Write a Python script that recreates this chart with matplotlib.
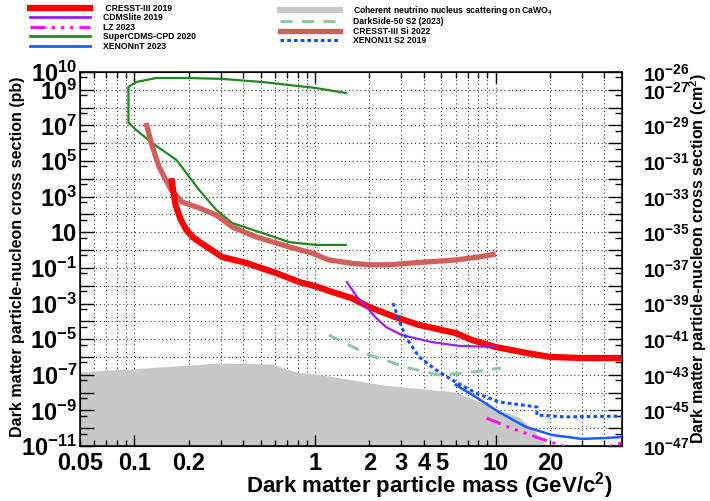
import matplotlib

matplotlib.use("Agg")

import matplotlib.pyplot as plt
import numpy as np
from matplotlib.lines import Line2D
from matplotlib.ticker import FixedLocator, FuncFormatter, NullLocator

plt.rcParams["font.family"] = ["Liberation Sans", "DejaVu Sans"]
plt.rcParams["font.weight"] = "bold"
plt.rcParams["mathtext.fontset"] = "custom"
plt.rcParams["mathtext.rm"] = "Liberation Sans:bold"
plt.rcParams["mathtext.it"] = "Liberation Sans:bold"
plt.rcParams["mathtext.bf"] = "Liberation Sans:bold"

# ---------- data: mass in GeV/c^2, cross section in pb ----------
cresst3_m = [0.16, 0.169, 0.18, 0.194, 0.21, 0.229, 0.306, 0.416, 0.61, 0.82, 1.0, 1.24, 1.6, 2.0,
             2.8, 3.76, 6.0, 7.4, 10, 14.7, 20, 30, 50]
cresst3_s = [1.1e4, 3.4e2, 55, 13.5, 5.5, 2.9, 0.41, 0.19, 0.051, 0.016, 9.5e-3, 4.5e-3, 2.0e-3, 6.3e-4,
             1.7e-4, 6.3e-5, 2.2e-5, 8.9e-6, 3.6e-6, 1.7e-6, 1.0e-6, 8.7e-7, 8.7e-7]

cresst_si_m = [0.116, 0.124, 0.137, 0.16, 0.184, 0.229, 0.284, 0.348, 0.472, 0.72, 0.96, 1.19,
               1.6, 2.0, 2.56, 4.0, 6.0, 8.0, 10.0]
cresst_si_s = [1.4e7, 1.0e6, 4.7e4, 2.3e3, 5.0e2, 2.3e2, 93, 20, 5.5, 1.5, 0.69, 0.28,
               0.18, 0.15, 0.15, 0.21, 0.28, 0.41, 0.60]

cpd_m = [1.48, 1.01, 0.51, 0.306, 0.201, 0.132, 0.1025, 0.0927, 0.0927, 0.1025, 0.126, 0.171,
         0.194, 0.229, 0.284, 0.348, 0.51, 0.72, 1.01, 1.48]
cpd_s = [6.6e8, 1.26e9, 2.75e9, 4.1e9, 4.6e9, 4.6e9, 2.75e9, 1.45e9, 1.4e7, 5.5e6, 1.0e6, 1.15e5,
         2.1e4, 2.3e3, 1.8e2, 33, 9.1, 2.8, 1.95, 1.95]

cdmslite_m = [1.5, 1.71, 1.99, 2.2, 2.47, 3.02, 4.4, 6.25, 10]
cdmslite_s = [1.6e-2, 2.3e-3, 4.4e-4, 1.4e-4, 4.8e-5, 1.7e-5, 6.9e-6, 4.2e-6, 3.6e-6]

darkside_m = [1.19, 1.99, 3.3, 4.84, 6.8, 10.7]
darkside_s = [1.7e-5, 1.3e-6, 2.4e-7, 9.8e-8, 1.26e-7, 2.4e-7]

xe1t_m = [2.7, 2.91, 3.18, 3.76, 4.66, 6.0, 7.76, 10.4, 16.9, 16.9, 24.4, 50]
xe1t_s = [1.07e-3, 1.2e-4, 1.3e-5, 1.0e-6, 1.9e-7, 3.9e-8, 9.5e-9, 3.0e-9, 1.55e-9, 5.5e-10,
          4.3e-10, 4.8e-10]

xennt_m = [6.0, 7.76, 10.4, 14.7, 20.4, 29.9, 40.5, 50]
xennt_s = [2.7e-8, 5.6e-9, 8.1e-10, 1.17e-10, 4.2e-11, 2.5e-11, 2.8e-11, 3.2e-11]

lz_m = [8.9, 12.2, 17.3, 24.4, 32, 40, 50]
lz_s = [3.7e-10, 1.0e-10, 2.8e-11, 8.9e-12, 6e-12, 8e-12, 1.5e-11]

floor_m = [0.05, 0.1, 0.2, 0.295, 0.578, 0.785, 1.01, 1.75, 2.34, 6.0, 10.4, 13.4, 16.2, 18.9, 20]
floor_s = [1.45e-7, 2.2e-7, 3.5e-7, 4.6e-7, 4.0e-7, 1.45e-7, 1.1e-7, 4.5e-8, 2.7e-8, 1.07e-8,
           1.05e-9, 4.3e-10, 7.9e-11, 1.15e-11, 5e-12]

x_labels = {0.05: "0.05", 0.1: "0.1", 0.2: "0.2", 1: "1", 2: "2", 3: "3", 4: "4", 5: "5",
            10: "10", 20: "20"}
y_label_exps = [10, 9, 7, 5, 3, 1, -1, -3, -5, -7, -9, -11]
cm2_label_exps = [-26, -27, -29, -31, -33, -35, -37, -39, -41, -43, -45, -47]

W, H = 710, 501


def main() -> None:
    fig = plt.figure(figsize=(W / 100, H / 100), dpi=100)
    ax = fig.add_axes([80 / W, 1 - 446 / H, 542 / W, 374 / H])
    ax.set_xscale("log")
    ax.set_yscale("log")
    ax.set_xlim(0.05, 50)
    ax.set_ylim(1e-11, 1e10)

    # right axis in cm^2 (1 pb = 1e-36 cm^2); made first since twinx() resets the left ticks
    ax2 = ax.twinx()
    ax2.set_yscale("log")
    ax2.set_ylim(1e-47, 1e-26)
    ax2.yaxis.set_major_locator(FixedLocator([10.0 ** e for e in cm2_label_exps]))
    ax2.yaxis.set_minor_locator(NullLocator())
    ax2.yaxis.set_major_formatter(FuncFormatter(lambda v, p: r"$10^{%d}$" % round(np.log10(v))))
    ax2.tick_params(axis="y", length=0, pad=15, labelsize=14)

    # dotted grid underneath the neutrino floor
    xgrid = [k * 10.0 ** e for e in range(-2, 2) for k in range(1, 10)]
    xgrid = [v for v in xgrid if 0.05 < v < 50]
    grid_kw = dict(color="#3c3c3c", lw=0.8, ls=(0, (1, 2.5)), zorder=0.5)
    for v in xgrid:
        ax.axvline(v, **grid_kw)
    for e in range(-10, 10):
        ax.axhline(10.0 ** e, **grid_kw)

    ax.fill_between(floor_m, floor_s, 1e-13, color="#c8c8c8", lw=0, zorder=1)

    ax.plot(cpd_m, cpd_s, color="#1f8a1f", lw=1.6, zorder=3)
    ax.plot(cresst_si_m, cresst_si_s, color="#d35f5a", lw=3.8, zorder=3, solid_capstyle="butt")
    ax.plot(cresst3_m, cresst3_s, color="#ff0000", lw=4.5, zorder=4, solid_capstyle="butt")
    ax.plot(cdmslite_m, cdmslite_s, color="#9b1ff0", lw=1.6, zorder=4)
    ax.plot(darkside_m, darkside_s, color="#8cc9a4", lw=2.2, dashes=(4, 3), zorder=4)
    ax.plot(xe1t_m, xe1t_s, color="#1050ff", lw=2.2, dashes=(1.2, 1.0), zorder=4)
    ax.plot(xennt_m, xennt_s, color="#1a5cff", lw=1.8, zorder=4)
    ax.plot(lz_m, lz_s, color="#ff10f0", lw=2.2, dashes=(5, 2, 1, 2, 1, 2, 1, 2), zorder=4)

    # ticks
    ax.xaxis.set_major_locator(FixedLocator([0.1, 1, 10]))
    ax.xaxis.set_minor_locator(FixedLocator([v for v in xgrid + [0.05] if v not in (0.1, 1, 10)]))
    fmt_x = FuncFormatter(lambda v, p: next((t for k, t in x_labels.items() if abs(v - k) < 1e-9 * max(1, k)), ""))
    ax.xaxis.set_major_formatter(fmt_x)
    ax.xaxis.set_minor_formatter(fmt_x)

    ax.yaxis.set_major_locator(FixedLocator([10.0 ** e for e in range(-11, 11)]))
    ax.yaxis.set_minor_locator(FixedLocator([5 * 10.0 ** e for e in range(-12, 10)]))

    def fmt_y(v, p):
        e = int(round(np.log10(v)))
        if e not in y_label_exps:
            return ""
        return "10" if e == 1 else r"$10^{%d}$" % e

    ax.yaxis.set_major_formatter(FuncFormatter(fmt_y))
    ax.yaxis.set_minor_formatter(FuncFormatter(lambda v, p: ""))

    ax.tick_params(which="both", direction="in", top=True, right=True, labelright=False, width=1.0)
    ax.tick_params(axis="x", which="both", labelsize=17, pad=4)
    ax.tick_params(axis="x", which="major", length=8)
    ax.tick_params(axis="x", which="minor", length=4.5)
    ax.tick_params(axis="y", which="major", length=10, pad=2, labelsize=17)
    ax.tick_params(axis="y", which="minor", length=5)
    for s in ax.spines.values():
        s.set_linewidth(1.1)

    # axis titles
    fig.text(612 / W, 1 - 470 / H, "Dark matter particle mass (GeV/c$^2$)", fontsize=16,
             ha="right", va="top")
    fig.text(18 / W, 1 - 77 / H, "Dark matter particle-nucleon cross section (pb)", fontsize=11.5,
             rotation=90, ha="center", va="top")
    fig.text(698 / W, 1 - 73 / H, "Dark matter particle-nucleon cross section (cm$^2$)", fontsize=11.5,
             rotation=90, ha="center", va="top")

    # legends
    h_left = [
        Line2D([], [], color="#ff0000", lw=4.5),
        Line2D([], [], color="#9b1ff0", lw=2.0),
        Line2D([], [], color="#ff10f0", lw=2.2, dashes=(5, 2, 1, 2, 1, 2, 1, 2)),
        Line2D([], [], color="#1f8a1f", lw=2.0),
        Line2D([], [], color="#1a5cff", lw=2.0),
    ]
    l_left = [" CRESST-III 2019", "CDMSlite 2019", "LZ 2023", "SuperCDMS-CPD 2020", "XENONnT 2023"]
    h_right = [
        Line2D([], [], color="#c8c8c8", lw=4.5),
        Line2D([], [], color="#8cc9a4", lw=2.2, dashes=(4, 3)),
        Line2D([], [], color="#d35f5a", lw=3.8),
        Line2D([], [], color="#1050ff", lw=2.2, dashes=(1.2, 1.0)),
    ]
    l_right = ["Coherent neutrino nucleus scattering on CaWO$_4$", "DarkSide-50 S2 (2023)",
               "CRESST-III Si 2022", "XENON1t S2 2019"]
    opts = dict(loc="upper left", frameon=False, fontsize=6.2, handlelength=7.0,
                handletextpad=1.5, labelspacing=0.05, borderpad=0, borderaxespad=0)
    fig.legend(h_left, l_left, bbox_to_anchor=(30 / W, 1 - 4 / H), **opts)
    fig.legend(h_right, l_right, bbox_to_anchor=(280 / W, 1 - 4 / H), **opts)

    fig.savefig("out.png", dpi=100)


if __name__ == "__main__":
    main()
